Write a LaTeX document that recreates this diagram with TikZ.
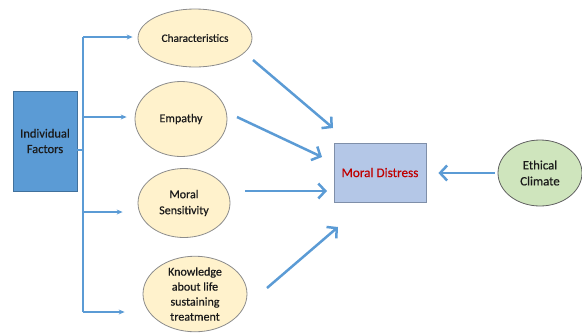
\documentclass[tikz,border=0pt]{standalone}
\usepackage{fontspec}
\setmainfont{Carlito}[FakeBold=0.5]
\usetikzlibrary{shapes.geometric,arrows.meta}
\definecolor{arrowblue}{HTML}{5B9BD5}
\definecolor{indfill}{HTML}{5B9BD5}
\definecolor{indedge}{HTML}{41719C}
\definecolor{cream}{HTML}{FFF2CC}
\definecolor{creamedge}{HTML}{8C8C8C}
\definecolor{mdfill}{HTML}{B4C7E7}
\definecolor{mdedge}{HTML}{7F8FA9}
\definecolor{mdred}{HTML}{C00000}
\definecolor{ecfill}{HTML}{CFE5BD}
\definecolor{ecedge}{HTML}{606060}
\definecolor{txt}{HTML}{1A1A1A}
\begin{document}
\begin{tikzpicture}[x=1pt,y=-1pt,
  every node/.style={font=\fontsize{12}{15}\selectfont, text=txt, align=center, inner sep=0pt},
  factor/.style={ellipse, draw=creamedge, fill=cream, line width=0.8pt},
  branch/.style={draw=arrowblue, line width=1.5pt, -{Stealth[length=6pt,width=5pt]}},
  branchline/.style={draw=arrowblue, line width=1.5pt},
  bigarrow/.style={draw=arrowblue, line width=2.5pt, -{Straight Barb[length=7pt,width=15pt]}}
]
\useasboundingbox (0,0) rectangle (582,333);

% nodes
\node[draw=indedge, fill=indfill, line width=0.8pt, minimum width=64pt, minimum height=100pt, font=\fontsize{12.5}{15.5}\selectfont] (ind) at (45,141) {Individual\\Factors};
\node[factor, minimum width=114pt, minimum height=58pt, font=\fontsize{11.3}{14}\selectfont] (char) at (195,38) {Characteristics};
\node[factor, minimum width=92pt, minimum height=75pt] (emp) at (181,119) {Empathy};
\node[factor, minimum width=92pt, minimum height=69pt, font=\fontsize{12}{16}\selectfont] (sens) at (184,203) {Moral\\Sensitivity};
\node[factor, minimum width=104pt, minimum height=74pt] (know) at (195,294) {Knowledge\\about life\\sustaining\\treatment};
\node[draw=mdedge, fill=mdfill, line width=0.8pt, minimum width=92pt, minimum height=59pt, text=mdred, font=\fontsize{13.2}{16}\selectfont] (md) at (380,172.5) {Moral Distress};
\node[ellipse, draw=ecedge, fill=ecfill, line width=0.8pt, minimum width=84pt, minimum height=66pt, font=\fontsize{12.8}{16}\selectfont] (ec) at (540,173) {Ethical\\Climate};

% branch coordinates
\coordinate (btop) at (83,37);
\coordinate (bemp) at (83,117);
\coordinate (bmid) at (83,150);
\coordinate (bsens) at (83,212);
\coordinate (bbot) at (83,312);

\draw[branchline] (btop) -- (bbot);
\draw[branchline] (ind.east |- bmid) -- (bmid);
\draw[branch, shorten >=5pt] (btop) -- (btop -| char.west);
\draw[branch, shorten >=8pt] (bemp) -- (bemp -| emp.west);
\draw[branch, shorten >=15pt] (bsens) -- (bsens -| sens.west);
\draw[branch, shorten >=18pt] (bbot) -- (bbot -| know.west);

% arrows to Moral Distress
\coordinate (a1s) at (253,60);   \coordinate (a1e) at (333,128);
\coordinate (a2s) at (237,117);  \coordinate (a2e) at (322,157);
\coordinate (a3s) at (245,191);  \coordinate (a3e) at (327,191);
\coordinate (a4s) at (267,288);  \coordinate (a4e) at (338,227);
\draw[bigarrow] (a1s) -- (a1e);
\draw[bigarrow] (a2s) -- (a2e);
\draw[bigarrow] (a3s) -- (a3e);
\draw[bigarrow] (a4s) -- (a4e);
\draw[bigarrow, shorten <=3pt, shorten >=12pt] (ec.west) -- (md.east |- ec.west);
\end{tikzpicture}
\end{document}
